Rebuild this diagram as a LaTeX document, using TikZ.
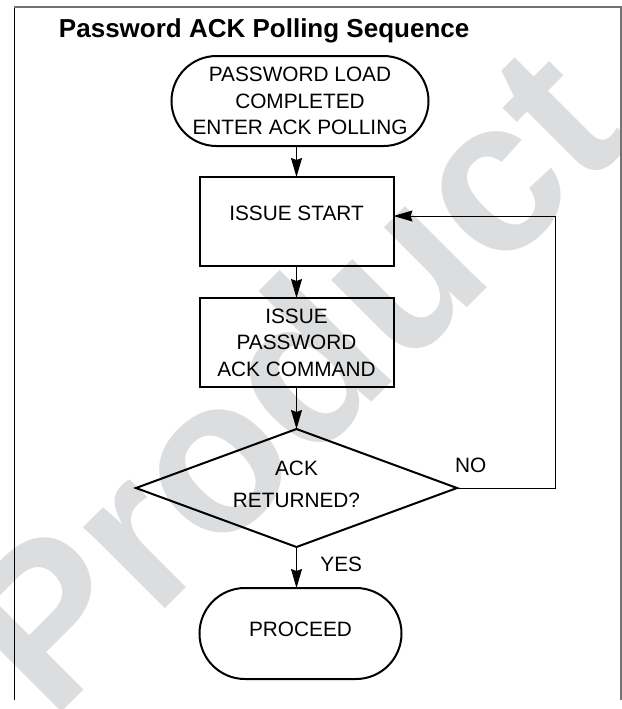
\documentclass[tikz,border=0pt]{standalone}
\usepackage{fontspec}
\setmainfont{Liberation Sans}
\usepackage{tikz}
\usetikzlibrary{arrows.meta, calc, positioning, shapes.geometric, shapes.misc}

\definecolor{watermark}{RGB}{220,221,223}

\begin{document}
\begin{tikzpicture}[x=0.5pt, y=-0.5pt, font=\fontsize{10.4}{13.25}\selectfont]
\tikzset{every node/.style={inner sep=0pt, outer sep=0pt}}

\tikzstyle{term}=[rounded rectangle, draw=black, line width=1pt, minimum width=128.5pt, minimum height=45pt, align=center]
\tikzstyle{proc}=[rectangle, draw=black, line width=1pt, minimum width=97pt, minimum height=44.5pt, align=center]
\tikzstyle{decision}=[diamond, draw=black, line width=1pt, minimum width=160.5pt, minimum height=59pt, aspect=2.7, align=center]
\tikzstyle{answer}=[text height=7.4pt, text depth=0pt]
\tikzstyle{post}=[-{Stealth[length=9.5pt, width=5.5pt, inset=1pt]}, line width=0.5pt]
\tikzstyle{wmark}=[rotate=45, text=watermark, font=\fontsize{109}{109}\bfseries\selectfont]

\useasboundingbox (0,0) rectangle (622,709);

% watermark behind everything
\node[wmark] (stamp) at (288,376) {Product};

% frame and title
\draw[line width=0.5pt] (14,700) -- (14,6.5);
\draw[line width=1pt, black!55] (14,6.5) -- (621,6.5) -- (621,700);
\node[anchor=base west, font=\fontsize{13}{15}\bfseries\selectfont] (title) at (59,37.5) {Password ACK Polling Sequence};

\node[term] (start) at (300,101) {PASSWORD LOAD\\COMPLETED\\ENTER ACK POLLING};
\node[proc, below=15.5pt of start, xshift=-1.75pt, text depth=8pt] (issue) {ISSUE START};
\node[proc, below=16pt of issue] (cmd) {ISSUE\\PASSWORD\\ACK COMMAND};
\node[decision, below=21pt of cmd, text depth=4pt] (ack) {ACK\\[2.75pt]RETURNED?};
\node[term, below=20.5pt of ack, xshift=2pt, minimum width=101pt, minimum height=45.5pt, text depth=4.5pt] (done) {PROCEED};

\node[answer, above right=8pt and -1pt of ack.east] (no label) {NO};
\node[answer, below right=5pt and 12pt of ack.south] (yes label) {YES};
\coordinate[right=49pt of ack.east] (ack turn);

\draw[post] (start.south -| issue.north) -- (issue.north);
\draw[post] (issue) -- (cmd);
\draw[post] (cmd) -- (ack);
\draw[post] (ack.south) -- (ack.south |- done.north);
\draw[post] (ack.east) -- (ack turn) |- ([yshift=2.75pt]issue.east);

\end{tikzpicture}
\end{document}
